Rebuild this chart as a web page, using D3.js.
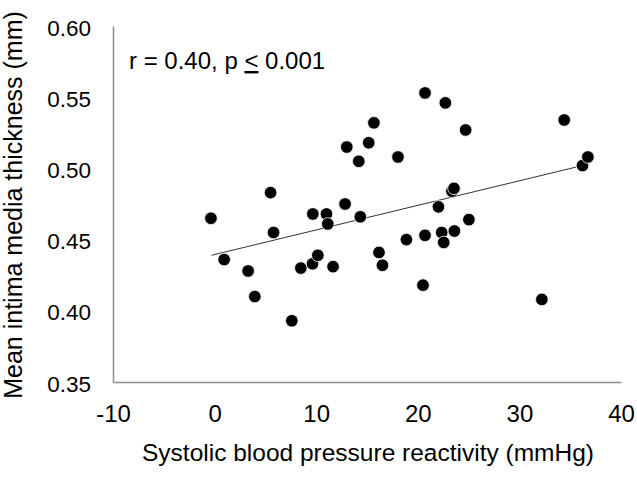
<!DOCTYPE html>
<html>
<head>
<meta charset="utf-8">
<script src="https://cdn.jsdelivr.net/npm/d3@7"></script>
<style>
  html, body { margin: 0; padding: 0; background: #fff; }
  svg { display: block; font-family: "Liberation Sans", Arial, sans-serif; }
</style>
</head>
<body>
<svg id="chart" width="637" height="480"></svg>
<script>
// Data
const sbpReactivity = [-0.36, 0.94, 3.30, 3.96, 5.51, 5.80, 7.60, 8.49, 9.64, 9.67,
  10.16, 11.01, 11.14, 11.66, 12.84, 13.01, 14.19, 14.34, 15.17, 15.68,
  16.18, 16.52, 18.05, 18.88, 20.51, 20.71, 20.71, 22.03, 22.35, 22.55,
  22.71, 23.36, 23.56, 23.60, 24.71, 25.03, 32.21, 34.41, 36.21, 36.74];
const meanIMT = [0.465, 0.436, 0.428, 0.410, 0.483, 0.455, 0.393, 0.430, 0.433, 0.468,
  0.439, 0.468, 0.461, 0.431, 0.475, 0.515, 0.505, 0.466, 0.518, 0.532,
  0.441, 0.432, 0.508, 0.450, 0.418, 0.553, 0.453, 0.473, 0.455, 0.448,
  0.546, 0.484, 0.486, 0.456, 0.527, 0.464, 0.408, 0.534, 0.502, 0.508];
const trendX = [-0.3, 36.2];
const trendY = [0.439, 0.502];
const xTicks = [-10, 0, 10, 20, 30, 40];
const yTicks = [0.35, 0.40, 0.45, 0.50, 0.55, 0.60];
const xTitle = "Systolic blood pressure reactivity (mmHg)";
const yTitle = "Mean intima media thickness (mm)";
const annotation = ["r = 0.40, p ", "<", " 0.001"];

(function () {
const svg = d3.select("#chart");
const mLeft = 113, mRight = 621, mTop = 26, mBottom = 382;
const FONT = "Liberation Sans, Arial, sans-serif";

const x = d3.scaleLinear().domain([-10, 40]).range([mLeft, mRight]);
const y = d3.scaleLinear().domain([0.35, 0.60]).range([mBottom, mTop]);

const axisColor = "#8c8c8c";

// X axis
const xAxis = svg.append("g")
  .attr("transform", `translate(0,${mBottom})`)
  .call(d3.axisBottom(x).tickValues(xTicks).tickSize(0)
    .tickFormat(d => String(d).replace("\u2212", "-")));
xAxis.select(".domain").attr("stroke", axisColor).attr("stroke-width", 1.5);
xAxis.selectAll("text")
  .attr("font-size", 24).attr("fill", "#000").attr("font-family", FONT)
  .attr("y", 40).attr("dy", 0);

// Y axis
const yAxis = svg.append("g")
  .attr("transform", `translate(${mLeft},0)`)
  .call(d3.axisLeft(y).tickValues(yTicks).tickSize(0).tickFormat(d3.format(".2f")));
yAxis.select(".domain").attr("stroke", axisColor).attr("stroke-width", 1.5);
yAxis.selectAll("text")
  .attr("font-size", 22.5).attr("fill", "#000").attr("font-family", FONT)
  .attr("x", -22).attr("dy", 0).attr("y", 9);

// Axis titles
svg.append("text")
  .attr("x", 368)
  .attr("y", 461)
  .attr("text-anchor", "middle")
  .attr("font-size", 24.5)
  .text(xTitle);

svg.append("text")
  .attr("transform", `translate(22,205) rotate(-90)`)
  .attr("text-anchor", "middle")
  .attr("font-size", 25)
  .text(yTitle);

// Trend line
svg.append("line")
  .attr("x1", x(trendX[0])).attr("y1", y(trendY[0]))
  .attr("x2", x(trendX[1])).attr("y2", y(trendY[1]))
  .attr("stroke", "#333").attr("stroke-width", 1);

// Points
const pts = sbpReactivity.map((v, i) => ({ x: v, y: meanIMT[i] }));
svg.append("g").selectAll("circle")
  .data(pts).enter().append("circle")
  .attr("cx", d => x(d.x))
  .attr("cy", d => y(d.y))
  .attr("r", 6.3)
  .attr("fill", "#000")
  .attr("stroke", "#fff")
  .attr("stroke-width", 0.8);

// Annotation
const ann = svg.append("text")
  .attr("x", 129)
  .attr("y", 69)
  .attr("font-size", 24);
ann.append("tspan").text(annotation[0]);
ann.append("tspan").attr("text-decoration", "underline").text(annotation[1]);
ann.append("tspan").text(annotation[2]);
})();
</script>
</body>
</html>
